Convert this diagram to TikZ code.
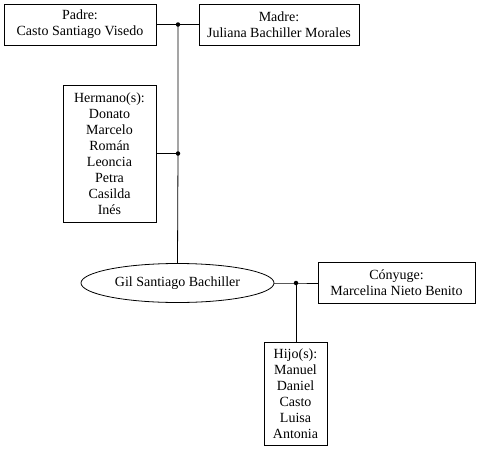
\documentclass[tikz,border=0pt]{standalone}
\usepackage{fontspec}
\setmainfont{Liberation Serif}
\usetikzlibrary{shapes.geometric}
\begin{document}
\begin{tikzpicture}[x=1pt,y=-1pt,
  every node/.style={font=\fontsize{14}{16}\selectfont},
  person/.style={draw,line width=0.8pt,align=center,inner sep=0pt},
  jdot/.style={circle,fill,inner sep=0pt,minimum size=4.5pt},
  link/.style={line width=0.8pt}]
\useasboundingbox (0,0) rectangle (480,453);
\node[person,minimum width=152,minimum height=41] (padre) at (80,24.5) {Padre:\\Casto Santiago Visedo};
\node[person,minimum width=160,minimum height=41] (madre) at (279,24.5) {Madre:\\Juliana Bachiller Morales};
\node[person,minimum width=93,minimum height=137] (herm) at (109.5,153.5) {Hermano(s):\\Donato\\Marcelo\\Román\\Leoncia\\Petra\\Casilda\\Inés};
\node[person,ellipse,minimum width=193,minimum height=39] (gil) at (177.5,283) {Gil Santiago Bachiller};
\node[person,minimum width=157,minimum height=41] (cony) at (396.5,282.5) {Cónyuge:\\Marcelina Nieto Benito};
\node[person,minimum width=63,minimum height=103] (hijo) at (295.5,393.5) {Hijo(s):\\Manuel\\Daniel\\Casto\\Luisa\\Antonia};
\node[jdot] (j1) at (178,24.5) {};
\node[jdot] (j2) at (178,153.5) {};
\node[jdot] (j3) at (296,283) {};
\draw[link] (padre.east) -- (j1.center) -- (madre.west);
\draw[link] (herm.east |- j2) -- (j2.center);
\draw[link] (j1.center) -- (j2.center) -- (gil.north);
\draw[link] (gil.east) -- (j3.center) -- (cony.west |- j3);
\draw[link] (j3.center) -- (hijo.north -| j3);
\end{tikzpicture}
\end{document}
